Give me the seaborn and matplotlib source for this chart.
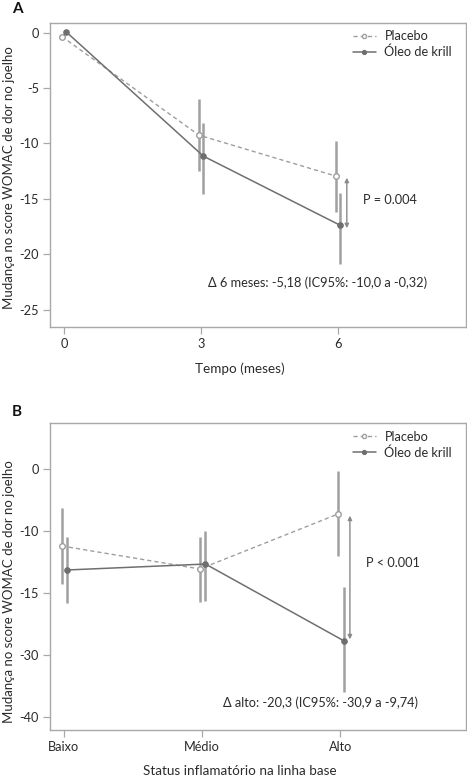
import matplotlib
matplotlib.use("Agg")
import matplotlib.pyplot as plt
import seaborn as sns
import numpy as np

sns.set_theme(style="white")
plt.rcParams['font.family'] = ['Lato', 'DejaVu Sans']
plt.rcParams['axes.unicode_minus'] = False

groups = ["Placebo", "Óleo de krill"]

# ---- Panel A data ----
a_months = [0, 3, 6]
a_placebo_mean = [-0.35, -9.25, -12.95]
a_placebo_lo = [np.nan, -12.45, -16.15]
a_placebo_hi = [np.nan, -6.0, -9.8]
a_krill_mean = [0.05, -11.15, -17.4]
a_krill_lo = [np.nan, -14.6, -20.9]
a_krill_hi = [np.nan, -8.2, -14.45]
a_yticks = [0, -5, -10, -15, -20, -25]
a_ytick_labels = ["0", "-5", "-10", "-15", "-20", "-25"]
a_p_text = "P = 0.004"
a_delta_text = "Δ 6 meses: -5,18 (IC95%: -10,0 a -0,32)"

# ---- Panel B data (in axis position units; labels as printed) ----
b_status = ["Baixo", "Médio", "Alto"]
b_placebo_mean = [-6.2, -8.06, -3.61]
b_placebo_lo = [-9.27, -10.73, -6.98]
b_placebo_hi = [-3.15, -5.47, -0.14]
b_krill_mean = [-8.14, -7.66, -13.86]
b_krill_lo = [-10.83, -10.67, -18.03]
b_krill_hi = [-5.45, -5.01, -9.54]
b_yticks = [0, -5, -10, -15, -20]
b_ytick_labels = ["0", "-10", "-15", "-30", "-40"]
b_p_text = "P < 0.001"
b_delta_text = "Δ alto: -20,3 (IC95%: -30,9 a -9,74)"

PLACEBO_C = "#9e9e9e"
KRILL_C = "#6f6f6f"
ERR_C = "#a0a0a0"
SPINE_C = "#a8a8a8"
TEXT_C = "#2b2b2b"
FS = 9.2

fig = plt.figure(figsize=(4.67, 7.8), dpi=100)
axA = fig.add_axes([50/467, 1-327.3/780, 416/467, 304.6/780])
axB = fig.add_axes([50/467, 1-730/780, 416/467, 306.7/780])


def style_axes(ax):
    for s in ax.spines.values():
        s.set_color(SPINE_C)
        s.set_linewidth(1.0)
    ax.tick_params(axis='both', which='both', direction='out', length=5,
                   width=0.9, color=SPINE_C, labelsize=FS, labelcolor=TEXT_C,
                   left=True, bottom=True, pad=3)


def draw_panel(ax, x, pm, plo, phi, km, klo, khi, dp, dk):
    xp = np.asarray(x, float) + dp
    xk = np.asarray(x, float) + dk
    ax.vlines(xp, plo, phi, color=ERR_C, lw=1.8, zorder=1)
    ax.vlines(xk, klo, khi, color=ERR_C, lw=1.8, zorder=1)
    sns.lineplot(x=xp, y=pm, ax=ax, color=PLACEBO_C, linestyle=(0, (3, 2.2)),
                 lw=1.0, marker='o', markersize=4, markerfacecolor='white',
                 markeredgecolor=PLACEBO_C, markeredgewidth=1.0,
                 label=groups[0], zorder=3, sort=False)
    sns.lineplot(x=xk, y=km, ax=ax, color=KRILL_C, linestyle='-', lw=1.1,
                 marker='o', markersize=4, markerfacecolor=KRILL_C,
                 markeredgecolor=KRILL_C, label=groups[1], zorder=3, sort=False)
    leg = ax.legend(loc='upper right', bbox_to_anchor=(0.985, 1.0), frameon=False,
                    fontsize=FS, handlelength=1.8, handletextpad=0.7,
                    labelspacing=0.25, borderaxespad=0.2)
    for h in leg.legend_handles:
        h.set_markersize(3)
    for t in leg.get_texts():
        t.set_color(TEXT_C)


# ---- Panel A ----
style_axes(axA)
draw_panel(axA, a_months, a_placebo_mean, a_placebo_lo, a_placebo_hi,
           a_krill_mean, a_krill_lo, a_krill_hi, -0.05, 0.05)
axA.set_xlim(-0.31, 8.8)
axA.set_ylim(-26.6, 0.9)
axA.set_xticks(a_months)
axA.set_xticklabels([str(m) for m in a_months])
axA.set_yticks(a_yticks)
axA.set_yticklabels(a_ytick_labels)
axA.annotate('', xy=(6.19, -13.1), xytext=(6.19, -17.65),
             arrowprops=dict(arrowstyle='<|-|>', color='#8a8a8a', lw=1.0,
                             mutation_scale=6, shrinkA=0, shrinkB=0))
axA.text(6.55, -15.1, a_p_text, fontsize=FS, color=TEXT_C, va='center', ha='left')
axA.text(5.56, -22.6, a_delta_text, fontsize=FS, color=TEXT_C, va='center', ha='center')
axA.set_xlabel("Tempo (meses)", fontsize=FS + 0.5, color=TEXT_C)
axA.xaxis.set_label_coords(0.457, -0.115)
axA.set_ylabel("Mudança no score WOMAC de dor no joelho", fontsize=FS + 0.3, color=TEXT_C)
axA.yaxis.set_label_coords(-0.083, 0.49)
fig.text(12/467, 1-9/780, "A", fontsize=11, fontweight='bold', color='#111111',
         ha='left', va='center')

# ---- Panel B ----
style_axes(axB)
bx = np.arange(len(b_status))
draw_panel(axB, bx, b_placebo_mean, b_placebo_lo, b_placebo_hi,
           b_krill_mean, b_krill_lo, b_krill_hi, -0.015, 0.025)
axB.set_xlim(-0.10, 2.91)
axB.set_ylim(-21.08, 3.72)
axB.set_xticks(bx)
axB.set_xticklabels(b_status)
axB.set_yticks(b_yticks)
axB.set_yticklabels(b_ytick_labels)
axB.annotate('', xy=(2.07, -3.75), xytext=(2.07, -13.75),
             arrowprops=dict(arrowstyle='<|-|>', color='#8a8a8a', lw=1.0,
                             mutation_scale=6, shrinkA=0, shrinkB=0))
axB.text(2.19, -7.6, b_p_text, fontsize=FS, color=TEXT_C, va='center', ha='left')
axB.text(1.86, -18.87, b_delta_text, fontsize=FS, color=TEXT_C, va='center', ha='center')
axB.set_xlabel("Status inflamatório na linha base", fontsize=FS + 0.5, color=TEXT_C)
axB.xaxis.set_label_coords(0.457, -0.115)
axB.set_ylabel("Mudança no score WOMAC de dor no joelho", fontsize=FS + 0.3, color=TEXT_C)
axB.yaxis.set_label_coords(-0.083, 0.45)
fig.text(12/467, 1-411.7/780, "B", fontsize=11, fontweight='bold', color='#111111',
         ha='left', va='center')

fig.savefig("out.png", dpi=100, facecolor='white')
